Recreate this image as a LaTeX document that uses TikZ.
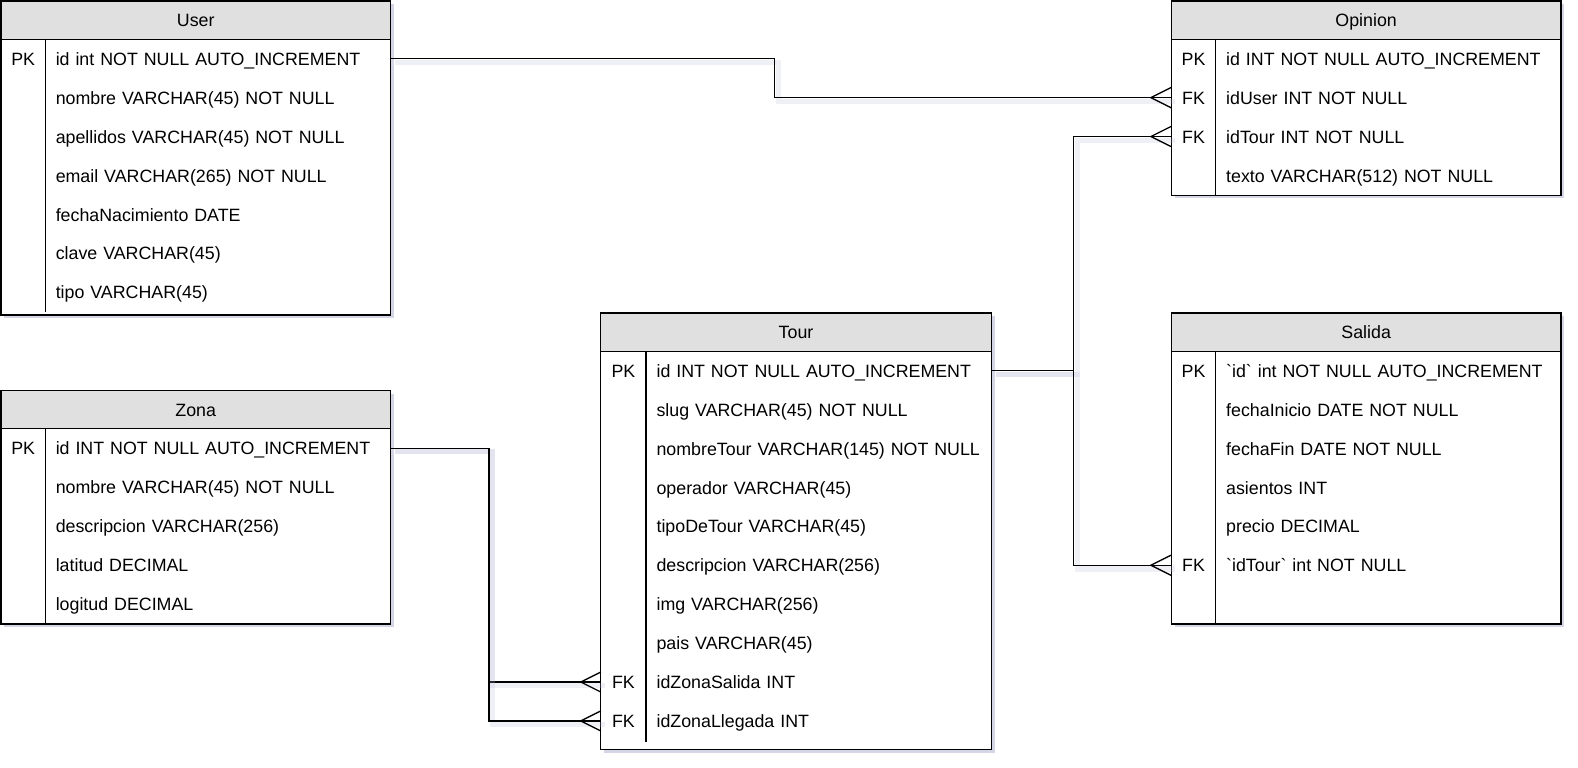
\documentclass[tikz,border=0pt]{standalone}
\usepackage{fontspec}
\setmainfont{Liberation Sans}
\usepackage{tikz}
\usetikzlibrary{calc,shadows}
\definecolor{erheader}{HTML}{E0E0E0}
\definecolor{ershadow}{HTML}{B8BAD6}

\tikzset{
  every node/.style={font=\fontsize{8.85pt}{11pt}\selectfont, text height=6.6pt, text depth=0pt},
  tblbox/.style={draw, line width=0.65pt, fill=white,
    drop shadow={shadow xshift=1.6pt, shadow yshift=-1.6pt, fill=ershadow, opacity=0.6}},
  hdrbox/.style={draw, line width=0.65pt, fill=erheader},
  keycell/.style={minimum width=22pt, minimum height=19.33pt, inner sep=0pt},
  fieldcell/.style={anchor=west, inner xsep=5pt, inner ysep=0pt, minimum height=19.33pt,
    text width=161.5pt, align=left},
  rel/.style={line width=0.65pt,
    preaction={draw=ershadow, opacity=0.22, line width=2.6pt,
      transform canvas={shift={(1.8pt,-1.8pt)}}}},
  crow/.pic={\draw[line width=0.65pt] (20,-10) -- (0,0) -- (20,10);}
}

\begin{document}
\begin{tikzpicture}[x=0.5pt, y=-0.5pt]
  \useasboundingbox (0,0) rectangle (1568,763);

  % User
  \draw[tblbox] (1,1) rectangle (388,313);
  \draw[hdrbox] (1,1) rectangle (388,39);
  \node (user) at (194.5,20) {User};
  \draw[line width=0.65pt] (45,39) -- (45,310);
  \foreach \k/\f [count=\i] in {PK/id int NOT NULL AUTO\_INCREMENT, /nombre VARCHAR(45) NOT NULL,
      /apellidos VARCHAR(45) NOT NULL, /email VARCHAR(265) NOT NULL, /fechaNacimiento DATE,
      /clave VARCHAR(45), /tipo VARCHAR(45)} {
    \node[keycell] (user-k\i) at (23,{39+38.67*(\i-0.5)}) {\k};
    \node[fieldcell] (user-\i) at (45,{39+38.67*(\i-0.5)}) {\mbox{\f}};
  }

  % Opinion
  \draw[tblbox] (1164,1) rectangle (1551,194);
  \draw[hdrbox] (1164,1) rectangle (1551,39);
  \node (opinion) at (1357.5,20) {Opinion};
  \draw[line width=0.65pt] (1208,39) -- (1208,194);
  \foreach \k/\f [count=\i] in {PK/id INT NOT NULL AUTO\_INCREMENT, FK/idUser INT NOT NULL,
      FK/idTour INT NOT NULL, /texto VARCHAR(512) NOT NULL} {
    \node[keycell] (opinion-k\i) at (1186,{39+38.67*(\i-0.5)}) {\k};
    \node[fieldcell] (opinion-\i) at (1208,{39+38.67*(\i-0.5)}) {\mbox{\f}};
  }

  % Tour
  \draw[tblbox] (597,311) rectangle (985,745);
  \draw[hdrbox] (597,311) rectangle (985,349);
  \node (tour) at (791,330) {Tour};
  \draw[line width=0.65pt] (642,349) -- (642,737);
  \foreach \k/\f [count=\i] in {PK/id INT NOT NULL AUTO\_INCREMENT, /slug VARCHAR(45) NOT NULL,
      /nombreTour VARCHAR(145) NOT NULL, /operador VARCHAR(45), /tipoDeTour VARCHAR(45),
      /descripcion VARCHAR(256), /img VARCHAR(256), /pais VARCHAR(45),
      FK/idZonaSalida INT, FK/idZonaLlegada INT} {
    \node[keycell] (tour-k\i) at (619.5,{349+38.67*(\i-0.5)}) {\k};
    \node[fieldcell] (tour-\i) at (642,{349+38.67*(\i-0.5)}) {\mbox{\f}};
  }

  % Salida
  \draw[tblbox] (1164,311) rectangle (1551,620);
  \draw[hdrbox] (1164,311) rectangle (1551,349);
  \node (salida) at (1357.5,330) {Salida};
  \draw[line width=0.65pt] (1208,349) -- (1208,620);
  \foreach \k/\f [count=\i] in {PK/\textasciigrave id\textasciigrave{} int NOT NULL AUTO\_INCREMENT,
      /fechaInicio DATE NOT NULL, /fechaFin DATE NOT NULL, /asientos INT, /precio DECIMAL,
      FK/\textasciigrave idTour\textasciigrave{} int NOT NULL} {
    \node[keycell] (salida-k\i) at (1186,{349+38.67*(\i-0.5)}) {\k};
    \node[fieldcell] (salida-\i) at (1208,{349+38.67*(\i-0.5)}) {\mbox{\f}};
  }

  % Zona
  \draw[tblbox] (1,388) rectangle (388,620);
  \draw[hdrbox] (1,388) rectangle (388,426);
  \node (zona) at (194.5,407) {Zona};
  \draw[line width=0.65pt] (45,426) -- (45,620);
  \foreach \k/\f [count=\i] in {PK/id INT NOT NULL AUTO\_INCREMENT, /nombre VARCHAR(45) NOT NULL,
      /descripcion VARCHAR(256), /latitud DECIMAL, /logitud DECIMAL} {
    \node[keycell] (zona-k\i) at (23,{426+38.67*(\i-0.5)}) {\k};
    \node[fieldcell] (zona-\i) at (45,{426+38.67*(\i-0.5)}) {\mbox{\f}};
  }

  % relations
  \draw[rel] (user-1.east) -- ++(381,0) |- (opinion-k2.west);
  \draw[rel] (tour-1.east) -- ++(81,0) |- (opinion-k3.west);
  \draw[rel] (tour-1.east) -- ++(81,0) |- (salida-k6.west);
  \draw[rel] (zona-1.east) -- ++(97,0) |- (tour-k9.west);
  \draw[rel] (zona-1.east) -- ++(97,0) |- (tour-k10.west);

  \path (opinion-k2.west) ++(-20,0) pic {crow};
  \path (opinion-k3.west) ++(-20,0) pic {crow};
  \path (salida-k6.west) ++(-20,0) pic {crow};
  \path (tour-k9.west) ++(-20,0) pic {crow};
  \path (tour-k10.west) ++(-20,0) pic {crow};
\end{tikzpicture}
\end{document}
